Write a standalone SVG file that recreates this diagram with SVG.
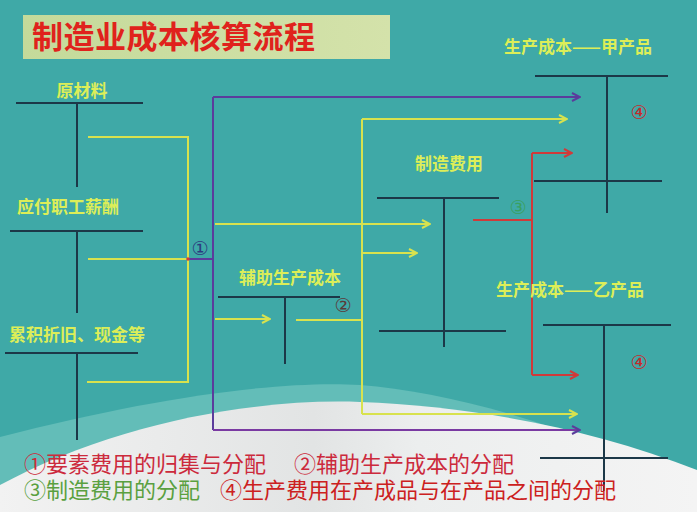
<svg xmlns="http://www.w3.org/2000/svg" width="697" height="512" viewBox="0 0 697 512">
<defs>
<linearGradient id="tg" x1="0" y1="0" x2="1" y2="0"><stop offset="0" stop-color="#c4da9a"/><stop offset="1" stop-color="#d4e2aa"/></linearGradient>
<linearGradient id="wg" x1="0" y1="0" x2="1" y2="0"><stop offset="0" stop-color="#f2f2f2"/><stop offset="0.45" stop-color="#e2e4e4"/><stop offset="0.6" stop-color="#eceeee"/><stop offset="1" stop-color="#f4f4f4"/></linearGradient>
<marker id="ay" viewBox="0 0 10 10" refX="9" refY="5" markerWidth="10" markerHeight="10" orient="auto" markerUnits="userSpaceOnUse"><path d="M1,1 L9,5 L1,9" fill="none" stroke="#d8e24e" stroke-width="2"/></marker>
<marker id="ap" viewBox="0 0 10 10" refX="9" refY="5" markerWidth="10" markerHeight="10" orient="auto" markerUnits="userSpaceOnUse"><path d="M1,1 L9,5 L1,9" fill="none" stroke="#5b3c9c" stroke-width="2"/></marker>
<marker id="ar" viewBox="0 0 10 10" refX="9" refY="5" markerWidth="10" markerHeight="10" orient="auto" markerUnits="userSpaceOnUse"><path d="M1,1 L9,5 L1,9" fill="none" stroke="#d03a3a" stroke-width="2"/></marker>
<style>
.lbl{font-family:"Noto Sans CJK SC","Noto Sans CJK JP",sans-serif;font-size:17px;font-weight:bold;fill:#dcee58}
.acc{stroke:#1c3848;stroke-width:2;fill:none}
.y{stroke:#d8e24e;stroke-width:2;fill:none}
.p{stroke:#5b3c9c;stroke-width:2;fill:none}
.r{stroke:#d03a3a;stroke-width:2;fill:none}
.num{font-family:"DejaVu Sans",sans-serif;font-size:19px}
.leg{font-family:"Liberation Sans","Noto Sans CJK SC","Noto Sans CJK JP",sans-serif;font-size:22px}
</style>
</defs>
<rect width="697" height="512" fill="#3fa9a7"/>
<path d="M0,437 C150,398 280,380 360,385 C450,392 570,425 697,487 L697,512 L0,512 Z" fill="#63bdb8"/>
<path d="M0,485 C110,425 250,398 360,402 C470,406 590,428 697,470 L697,512 L0,512 Z" fill="url(#wg)"/>

<g id="title">
<rect x="23" y="15" width="367" height="44" fill="url(#tg)"/>
<text x="32" y="48" font-family="Noto Sans CJK SC, sans-serif" font-size="31" font-weight="bold" fill="#e0221c" textLength="283">制造业成本核算流程</text>
</g>

<g id="connectors">
<path class="y" d="M88,137 H188 V382 H87"/>
<path class="y" d="M88,259 H188"/>
<path class="p" d="M188,259 H213"/>
<circle cx="188" cy="259" r="1.8" fill="#d03a3a"/>
<path class="p" d="M213,97 V430"/>
<path class="p" d="M213,97 H580" marker-end="url(#ap)"/>
<path d="M213,430 H580" stroke="#7a3aa2" stroke-width="2" fill="none" marker-end="url(#ap)"/>
<path class="y" d="M215,224 H430" marker-end="url(#ay)"/>
<path class="y" d="M215,319 H270" marker-end="url(#ay)"/>
<path class="y" d="M296,320 H362"/>
<path class="y" d="M362,119 V414"/>
<path class="y" d="M362,119 H567" marker-end="url(#ay)"/>
<path class="y" d="M362,414 H577" marker-end="url(#ay)"/>
<path class="y" d="M362,253 H417" marker-end="url(#ay)"/>
<path class="r" d="M473,220 H532"/>
<path class="r" d="M532,153 V375"/>
<path class="r" d="M532,153 H572" marker-end="url(#ar)"/>
<path class="r" d="M532,375 H578" marker-end="url(#ar)"/>
<text class="num" x="200" y="255" text-anchor="middle" fill="#2c3c80">①</text>
<text class="num" x="343" y="312" text-anchor="middle" fill="#5a3a3a">②</text>
<text class="num" x="518" y="214" text-anchor="middle" fill="#3aa060">③</text>
</g>

<g id="raw-material">
<text class="lbl" x="82" y="97" text-anchor="middle">原材料</text>
<path class="acc" d="M16,103 H143 M77,103 V187"/>
</g>

<g id="wages">
<text class="lbl" x="68" y="213" text-anchor="middle">应付职工薪酬</text>
<path class="acc" d="M10,231 H143 M77,231 V313"/>
</g>

<g id="depreciation">
<text class="lbl" x="77" y="341" text-anchor="middle">累积折旧、现金等</text>
<path class="acc" d="M5,353 H138 M77,353 V440"/>
</g>

<g id="aux-production">
<text class="lbl" x="290" y="284" text-anchor="middle">辅助生产成本</text>
<path class="acc" d="M218,297 H340 M285,297 V364"/>
</g>

<g id="overhead">
<text class="lbl" x="449" y="170" text-anchor="middle">制造费用</text>
<path class="acc" d="M377,198 H499 M444,198 V347 M379,331 H506"/>
</g>

<g id="product-a">
<text class="lbl" x="578" y="53" text-anchor="middle">生产成本——甲产品</text>
<path class="acc" d="M535,76 H668 M607,76 V213 M534,181 H662"/>
<text class="num" x="639" y="119" text-anchor="middle" fill="#c8282a">④</text>
</g>

<g id="product-b">
<text class="lbl" x="570" y="296" text-anchor="middle">生产成本——乙产品</text>
<path class="acc" d="M543,325 H671 M604,325 V491 M540,458 H668"/>
<text class="num" x="639" y="369" text-anchor="middle" fill="#c8282a">④</text>
</g>

<g id="legend">
<text class="leg" x="24" y="472" fill="#cc2a3c">①要素费用的归集与分配</text>
<text class="leg" x="294" y="472" fill="#cc2a3c">②辅助生产成本的分配</text>
<text class="leg" x="24" y="498" fill="#5aa040">③制造费用的分配</text>
<text class="leg" x="220" y="498" fill="#cc2020">④生产费用在产成品与在产品之间的分配</text>
</g>
</svg>
